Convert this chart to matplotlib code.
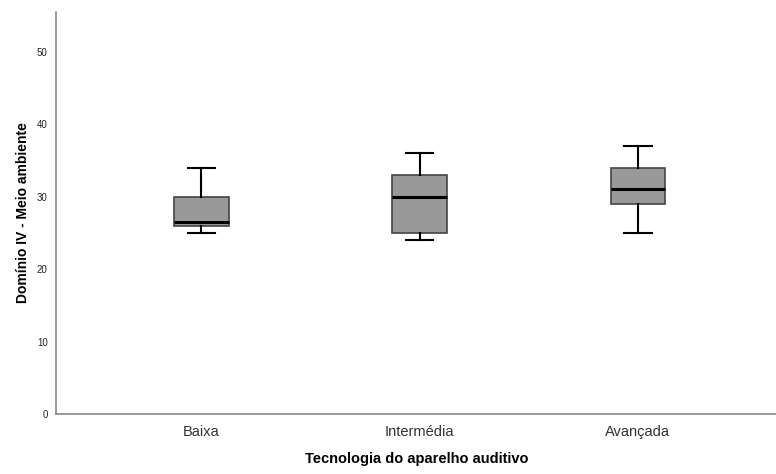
import matplotlib.pyplot as plt

plt.rcParams['font.family'] = ['Liberation Sans', 'DejaVu Sans']

categories = ["Baixa", "Intermédia", "Avançada"]
whislo = [25, 24, 25]
q1 = [26, 25, 29]
med = [26.5, 30, 31]
q3 = [30, 33, 34]
whishi = [34, 36, 37]
yticks = [0, 10, 20, 30, 40, 50]

stats = []
for i, cat in enumerate(categories):
    stats.append(dict(label=cat, whislo=whislo[i], q1=q1[i], med=med[i],
                      q3=q3[i], whishi=whishi[i], fliers=[]))

fig = plt.figure(figsize=(7.76, 4.74), dpi=100)
ax = fig.add_axes([0.0722, 0.1266, 0.93, 0.848])

ax.bxp(stats, positions=[1, 2, 3], widths=0.25, patch_artist=True,
       boxprops=dict(facecolor="#999999", edgecolor="#444444", linewidth=1.2),
       medianprops=dict(color="black", linewidth=2.2),
       whiskerprops=dict(color="black", linewidth=1.5),
       capprops=dict(color="black", linewidth=1.5),
       capwidths=0.125)

ax.set_xlim(0.335, 3.64)
ax.set_ylim(0, 55.5)
ax.set_yticks(yticks)
ax.tick_params(axis='y', length=0, labelsize=7, pad=6, labelcolor="#222222")
ax.tick_params(axis='x', length=0, labelsize=10.5, pad=8, labelcolor="#333333")

for s in ["top", "right"]:
    ax.spines[s].set_visible(False)
for s in ["left", "bottom"]:
    ax.spines[s].set_color("#888888")
    ax.spines[s].set_linewidth(1.2)

ax.set_xlabel("Tecnologia do aparelho auditivo", fontsize=10.5, fontweight="bold", labelpad=9)
ax.set_ylabel("Domínio IV - Meio ambiente", fontsize=10, fontweight="bold", labelpad=5)

plt.savefig("out.png", dpi=100)
